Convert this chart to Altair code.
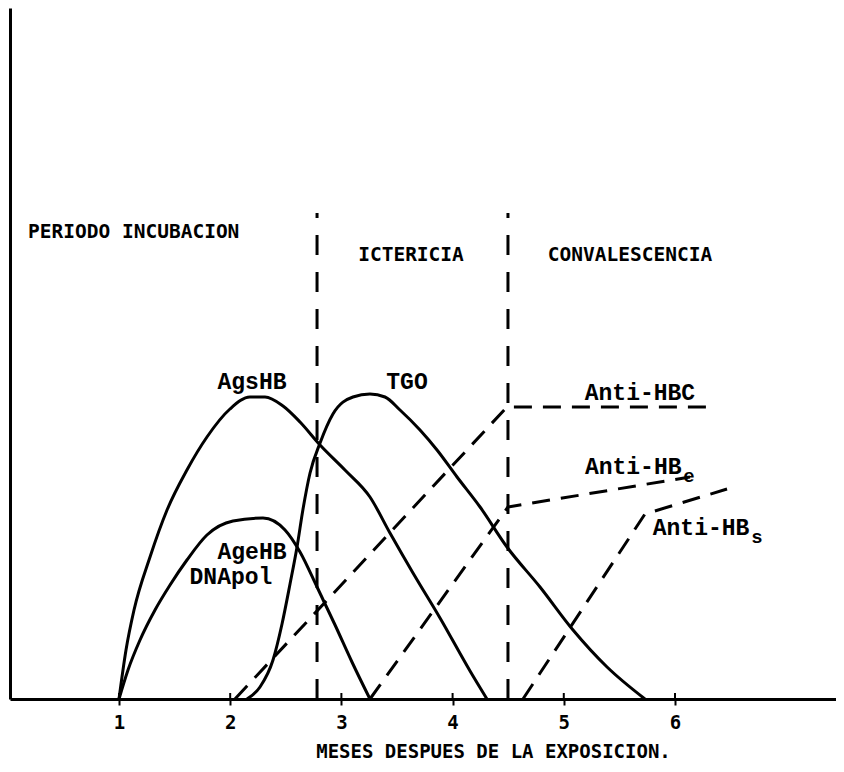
import altair as alt
import pandas as pd

# ---- data: x = months after exposure, y = relative level (0 = baseline) ----
ags_x = [1.0, 1.063, 1.135, 1.279, 1.432, 1.611, 1.791, 1.998, 2.178, 2.313, 2.475, 2.628, 2.808, 3.032, 3.257, 3.437, 3.644, 3.887, 4.157, 4.309]
ags_y = [0, 49, 89, 142, 189, 229, 262, 290, 302, 302, 293, 277, 254, 229, 202, 166, 126, 81, 28, 0]

age_x = [1.0, 1.081, 1.189, 1.324, 1.459, 1.611, 1.791, 2.025, 2.295, 2.493, 2.628, 2.781, 2.943, 3.095, 3.257]
age_y = [0, 29, 59, 89, 114, 139, 164, 178, 181, 169, 147, 112, 74, 37, 0]

tgo_x = [2.151, 2.268, 2.385, 2.466, 2.538, 2.601, 2.655, 2.718, 2.808, 2.924, 3.104, 3.257, 3.392, 3.527, 3.707, 3.860, 4.040, 4.247, 4.489, 4.786, 5.083, 5.389, 5.730]
tgo_y = [0, 12, 39, 75, 115, 152, 190, 226, 256, 285, 302, 305, 302, 289, 269, 249, 222, 192, 152, 112, 69, 32, 0]

hbc_x = [2.043, 4.489, 6.315]
hbc_y = [0, 292, 292]
hbe_x = [3.257, 4.498, 6.135]
hbe_y = [0, 192, 222]
hbs_x = [4.633, 5.730, 6.468]
hbs_y = [0, 185, 210]

phase_x = [2.781, 4.498]
phase_bottom = [0, 0]
phase_top = [486, 486]

tick_vals = [1, 2, 3, 4, 5, 6]
tick_lo = [0, 0, 0, 0, 0, 0]
tick_hi = [6, 6, 6, 6, 6, 6]

header_text = ["PERIODO INCUBACION", "ICTERICIA", "CONVALESCENCIA"]
header_x = [0.182, 3.626, 5.596]
header_y = [467, 444, 444]
header_align = ["left", "center", "center"]

lab_text = ["AgsHB", "TGO", "AgeHB", "DNApol", "Anti-HBC", "Anti-HB", "Anti-HB"]
lab_x = [2.196, 3.590, 2.196, 2.007, 5.685, 5.190, 5.800]
lab_y = [317, 317, 147, 122, 306, 232, 171]
lab_align = ["center", "center", "center", "center", "center", "left", "left"]

sub_text = ["e", "s"]
sub_x = [6.075, 6.685]
sub_y = [223, 162]

# ---- tables ----
def series(name, xs, ys):
    return pd.DataFrame({"serie": name, "mes": xs, "nivel": ys})

solid = pd.concat([series("AgsHB", ags_x, ags_y),
                   series("AgeHB", age_x, age_y),
                   series("TGO", tgo_x, tgo_y)])
dashed = pd.concat([series("Anti-HBC", hbc_x, hbc_y),
                    series("Anti-HBe", hbe_x, hbe_y),
                    series("Anti-HBs", hbs_x, hbs_y)])
phases = pd.DataFrame({"mes": phase_x, "bottom": phase_bottom, "top": phase_top})
ticks = pd.DataFrame({"mes": tick_vals, "lo": tick_lo, "hi": tick_hi})
headers = pd.DataFrame({"t": header_text, "mes": header_x, "nivel": header_y, "a": header_align})
labels = pd.DataFrame({"t": lab_text, "mes": lab_x, "nivel": lab_y, "a": lab_align})
subs = pd.DataFrame({"t": sub_text, "mes": sub_x, "nivel": sub_y})

xscale = alt.Scale(domain=[0.0198, 7.448], nice=False, zero=False)
yscale = alt.Scale(domain=[0, 691], nice=False, zero=False)

X = alt.X("mes:Q", scale=xscale,
          axis=alt.Axis(values=tick_vals, format="d", grid=False,
                        domainColor="black", domainWidth=3,
                        tickColor="black", tickWidth=2, tickSize=6,
                        labelFont="DejaVu Sans Mono", labelFontSize=19,
                        labelFontWeight="bold", labelColor="black", labelPadding=8,
                        title="MESES DESPUES DE LA EXPOSICION.",
                        titleFont="DejaVu Sans Mono", titleFontSize=19,
                        titleFontWeight="bold", titleColor="black",
                        titleX=483, titleY=52, titleAlign="center",
                        titleBaseline="middle"))
Y = alt.Y("nivel:Q", scale=yscale,
          axis=alt.Axis(labels=False, ticks=False, grid=False, title=None,
                        domainColor="black", domainWidth=3))

Xp = alt.X("mes:Q", scale=xscale)
Yp = alt.Y("nivel:Q", scale=yscale)

base_solid = alt.Chart(solid).mark_line(
    color="black", strokeWidth=3, interpolate="monotone"
).encode(x=X, y=Y, detail="serie:N")

base_dashed = alt.Chart(dashed).mark_line(
    color="black", strokeWidth=3, strokeDash=[18, 11]
).encode(x=Xp, y=Yp, detail="serie:N")

phase_rules = alt.Chart(phases).mark_rule(
    color="black", strokeWidth=3, strokeDash=[20, 17]
).encode(x=Xp, y=alt.Y("bottom:Q", scale=yscale), y2="top:Q")

tick_up = alt.Chart(ticks).mark_rule(color="black", strokeWidth=2).encode(
    x=Xp, y=alt.Y("lo:Q", scale=yscale), y2="hi:Q")

header_layers = []
for al in ["left", "center"]:
    header_layers.append(
        alt.Chart(headers[headers["a"] == al]).mark_text(
            font="DejaVu Sans Mono", fontSize=19.5, fontWeight="bold", color="black",
            align=al, baseline="middle"
        ).encode(x=Xp, y=Yp, text="t:N")
    )

label_layers = []
for al in ["left", "center"]:
    label_layers.append(
        alt.Chart(labels[labels["a"] == al]).mark_text(
            font="Liberation Mono", fontSize=23, fontWeight="bold", color="black",
            align=al, baseline="middle"
        ).encode(x=Xp, y=Yp, text="t:N")
    )

sub_layer = alt.Chart(subs).mark_text(
    font="Liberation Mono", fontSize=19, fontWeight="bold", color="black",
    align="left", baseline="middle"
).encode(x=Xp, y=Yp, text="t:N")

chart = alt.layer(
    base_solid, base_dashed, phase_rules, tick_up,
    *header_layers, *label_layers, sub_layer
).properties(
    width=826, height=691,
    padding={"left": 2, "top": 0, "right": 0, "bottom": 65},
    autosize=alt.AutoSizeParams(type="none"),
    background="white",
).configure_view(stroke=None)

chart.save("out.html", embed_options={"renderer": "svg", "actions": False})
